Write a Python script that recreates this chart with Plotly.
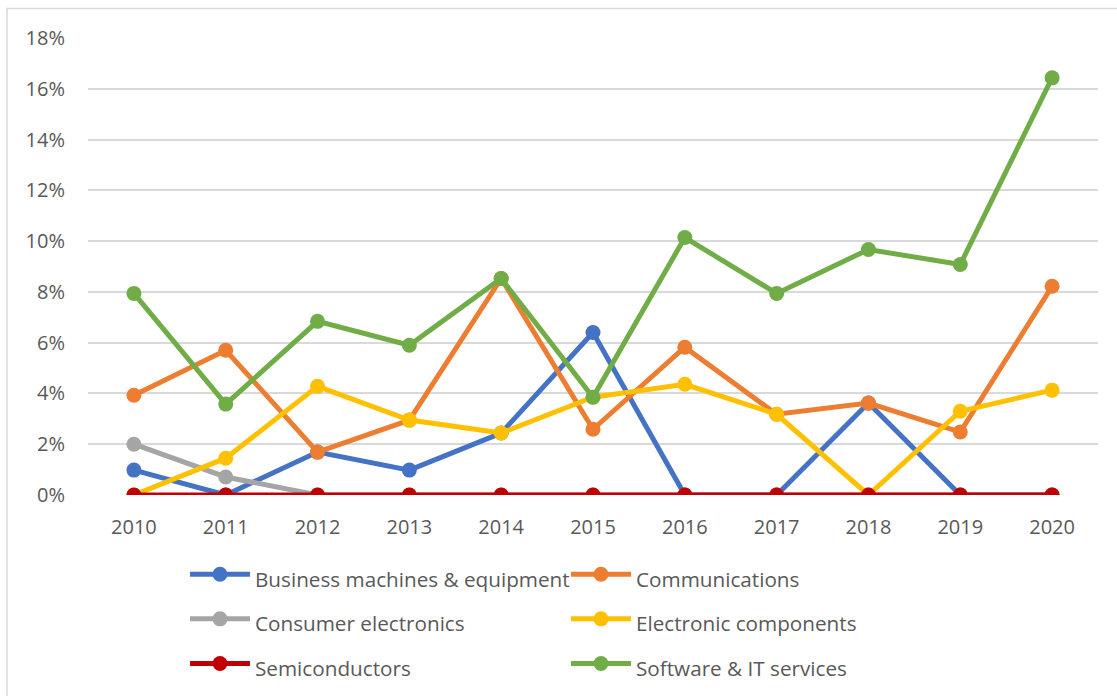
import plotly.graph_objects as go

years = ["2010", "2011", "2012", "2013", "2014", "2015", "2016", "2017", "2018", "2019", "2020"]

business = [0.98, 0.0, 1.69, 0.98, 2.44, 6.40, 0.0, 0.0, 3.62, 0.0, 0.0]
communications = [3.93, 5.70, 1.69, 2.95, 8.53, 2.59, 5.82, 3.18, 3.62, 2.48, 8.22]
consumer = [2.00, 0.71, 0.0, 0.0, 0.0, 0.0, 0.0, 0.0, 0.0, 0.0, 0.0]
electronic = [0.0, 1.45, 4.28, 2.95, 2.44, 3.85, 4.36, 3.18, 0.0, 3.30, 4.13]
semis = [0.0, 0.0, 0.0, 0.0, 0.0, 0.0, 0.0, 0.0, 0.0, 0.0, 0.0]
software = [7.94, 3.58, 6.84, 5.90, 8.53, 3.85, 10.14, 7.94, 9.67, 9.08, 16.43]

series_names = [
    "Business machines & equipment",
    "Communications",
    "Consumer electronics",
    "Electronic components",
    "Semiconductors",
    "Software & IT services",
]
series_values = [business, communications, consumer, electronic, semis, software]
colors = ["#4472C4", "#ED7D31", "#A5A5A5", "#FFC000", "#C00000", "#70AD47"]

y_ticks = [0, 2, 4, 6, 8, 10, 12, 14, 16, 18]
y_labels = [f"{v}%" for v in y_ticks]

FONT = "Open Sans"
TXT = "#595959"

fig = go.Figure()
for name, vals, col in zip(series_names, series_values, colors):
    fig.add_trace(go.Scatter(
        x=years, y=vals, name=f"<span style='font-size:20.7px'>{name}</span>",
        mode="lines+markers",
        line=dict(color=col, width=5),
        marker=dict(color=col, size=15),
    ))

L, R, T, B = 88, 19, 37.5, 201
W, H = 1117, 696
pw = W - L - R
ph = H - T - B

def px_x(p):
    return (p - L) / pw

def px_y(p):
    return (H - B - p) / ph

fig.update_layout(
    width=W, height=H,
    margin=dict(l=L, r=R, t=T, b=B, pad=0, autoexpand=False),
    paper_bgcolor="white", plot_bgcolor="white",
    font=dict(family=FONT, size=20, color=TXT),
    showlegend=True,
    legend=dict(
        orientation="h",
        x=px_x(185), xanchor="left",
        y=px_y(547), yanchor="top",
        font=dict(family=FONT, size=32, color=TXT),
        itemwidth=60,
        entrywidth=306,
        entrywidthmode="pixels",
        bgcolor="rgba(0,0,0,0)",
        traceorder="normal",
    ),
    xaxis=dict(
        type="category", range=[-0.5, 10.5],
        showgrid=False, zeroline=False, showline=False,
        ticks="", ticklabelstandoff=18,
        tickfont=dict(family=FONT, size=20, color=TXT),
        fixedrange=True,
    ),
    yaxis=dict(
        range=[0, 18], tickvals=y_ticks, ticktext=y_labels,
        showgrid=True, gridcolor="#D9D9D9", gridwidth=1.5,
        zeroline=False, showline=False,
        ticks="", ticklabelstandoff=22,
        tickfont=dict(family=FONT, size=20, color=TXT),
        fixedrange=True,
    ),
    shapes=[dict(
        type="rect", xref="paper", yref="paper",
        x0=px_x(7), x1=px_x(W + 10), y0=px_y(H + 10), y1=px_y(8),
        line=dict(color="#D9D9D9", width=1.5), fillcolor="rgba(0,0,0,0)",
        layer="below",
    )],
)

fig.write_html(
    "out.html",
    config={"displayModeBar": False},
    post_script="document.body.style.margin='0px';document.body.style.padding='0px';",
)
